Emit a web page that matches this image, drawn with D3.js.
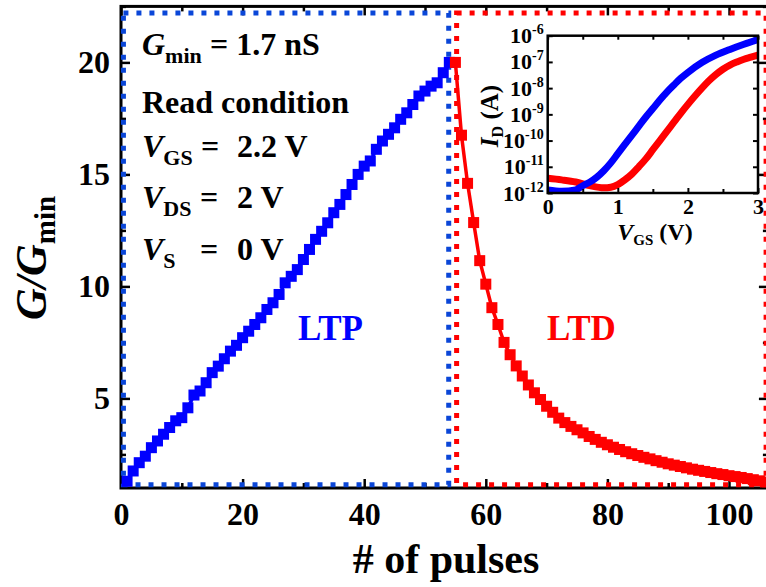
<!DOCTYPE html>
<html>
<head>
<meta charset="utf-8">
<script src="https://cdn.jsdelivr.net/npm/d3@7"></script>
<style>
  html, body { margin: 0; padding: 0; background: #fff; }
  svg { display: block; font-family: "Liberation Serif", "Times New Roman", serif; font-weight: bold; }
</style>
</head>
<body>
<svg id="chart" width="766" height="587"></svg>
<script>
// ---- Main panel data: normalized conductance G/Gmin versus pulse number ----
const ltpValues = [
  1.30, 1.76, 2.13, 2.42, 2.80, 3.10, 3.40, 3.70, 4.00, 4.14,
  4.58, 5.15, 5.33, 5.70, 6.15, 6.44, 6.77, 7.11, 7.37, 7.71,
  8.00, 8.30, 8.60, 8.97, 9.27, 9.64, 10.16, 10.45, 10.75, 11.20,
  11.65, 12.10, 12.46, 12.84, 13.29, 13.66, 14.10, 14.55, 15.00, 15.37,
  15.60, 16.12, 16.49, 16.79, 17.08, 17.46, 17.75, 18.12, 18.50, 18.72,
  18.94, 19.09, 19.54, 20.00
];
const ltdValues = [
  20.00, 16.75, 14.60, 12.85, 11.15, 10.10, 9.05, 8.30, 7.50, 6.95,
  6.45, 6.00, 5.60, 5.25, 4.95, 4.65, 4.38, 4.12, 3.92, 3.75,
  3.60, 3.46, 3.30, 3.17, 3.04, 2.93, 2.82, 2.72, 2.62, 2.53,
  2.45, 2.37, 2.30, 2.22, 2.15, 2.08, 2.02, 1.96, 1.90, 1.84,
  1.79, 1.74, 1.69, 1.64, 1.60, 1.55, 1.51, 1.47, 1.42, 1.37,
  1.32, 1.27
];
const ltpStartPulse = 1;
const ltdStartPulse = 55;

const xTicks = [0, 20, 40, 60, 80, 100];
const xMinorTicks = [10, 30, 50, 70, 90];
const yTicks = [5, 10, 15, 20];
const yMinorTicks = [2.5, 7.5, 12.5, 17.5, 22.5];

// ---- Inset data: transfer curves I_D versus V_GS ----
const vgsBlue = [0, 0.2, 0.4, 0.5, 0.6, 0.7, 0.8, 0.9, 1.0, 1.1, 1.2, 1.3, 1.4, 1.5, 1.6, 1.7, 1.8, 1.9, 2.0, 2.2, 2.4, 2.6, 2.8, 3.0];
const idBlue = [1.32e-12, 1.17e-12, 1.32e-12, 1.9e-12, 2.6e-12, 4.0e-12, 7.1e-12, 1.41e-11, 3.16e-11, 7.1e-11,
  1.58e-10, 3.55e-10, 7.9e-10, 1.66e-9, 3.55e-9, 7.1e-9, 1.32e-8, 2.4e-8, 3.98e-8, 9.5e-8,
  1.82e-7, 3.0e-7, 4.7e-7, 7.1e-7];
const vgsRed = [0, 0.2, 0.4, 0.6, 0.8, 0.9, 1.0, 1.1, 1.2, 1.3, 1.4, 1.5, 1.6, 1.7, 1.8, 1.9, 2.0, 2.1, 2.2, 2.3, 2.4, 2.5, 2.6, 2.7, 2.8, 2.9, 3.0];
const idRed = [3.63e-12, 3.16e-12, 2.63e-12, 1.91e-12, 1.58e-12, 1.66e-12, 2.09e-12, 3.16e-12, 5.25e-12, 1.0e-11,
  2.0e-11, 4.47e-11, 1.0e-10, 2.24e-10, 5.0e-10, 1.12e-9, 2.4e-9, 5.0e-9, 1.0e-8, 1.9e-8,
  3.3e-8, 5.25e-8, 7.6e-8, 1.0e-7, 1.26e-7, 1.51e-7, 1.82e-7];
const vgsTicks = [0, 1, 2, 3];
const vgsMinorTicks = [0.5, 1.5, 2.5];
const idTicks = [1e-12, 1e-11, 1e-10, 1e-9, 1e-8, 1e-7, 1e-6];

const BLUE = "#0000ff";
const RED = "#ff0000";
const BOX_BLUE = "#0a46d8";

const svg = d3.select("#chart");

// ---- scales ----
const x = d3.scaleLinear().domain([0, 106.4]).range([121, 121 + 6.08 * 106.4]);
const y = d3.scaleLinear().domain([1, 22.5]).range([488, 488 - 22.4 * 21.5]);
const [x0, x1] = x.range();
const [yb, yt] = y.range();

const ltp = ltpValues.map((v, i) => ({ p: ltpStartPulse + i, g: v }));
const ltd = ltdValues.map((v, i) => ({ p: ltdStartPulse + i, g: v }));

// ---- axes (ticks point inward, mirrored on all four sides) ----
function styleAxis(g, fontSize) {
  g.select(".domain").remove();
  g.selectAll(".tick line").attr("stroke", "#000").attr("stroke-width", 2.5);
  g.attr("font-family", null).attr("font-size", null);
  g.selectAll(".tick text").attr("font-size", fontSize).attr("fill", "#000");
}

svg.append("g").attr("transform", `translate(0,${yb})`)
  .call(d3.axisBottom(x).tickValues(xTicks).tickSize(-9).tickPadding(14))
  .call(g => styleAxis(g, 32));
svg.append("g").attr("transform", `translate(0,${yb})`)
  .call(d3.axisBottom(x).tickValues(xMinorTicks).tickSize(-5).tickFormat(""))
  .call(g => styleAxis(g, 0));
svg.append("g").attr("transform", `translate(0,${yt})`)
  .call(d3.axisTop(x).tickValues(xTicks).tickSize(-9).tickFormat(""))
  .call(g => styleAxis(g, 0));
svg.append("g").attr("transform", `translate(0,${yt})`)
  .call(d3.axisTop(x).tickValues(xMinorTicks).tickSize(-5).tickFormat(""))
  .call(g => styleAxis(g, 0));

svg.append("g").attr("transform", `translate(${x0},0)`)
  .call(d3.axisLeft(y).tickValues(yTicks).tickSize(-9).tickPadding(11))
  .call(g => styleAxis(g, 32));
svg.append("g").attr("transform", `translate(${x0},0)`)
  .call(d3.axisLeft(y).tickValues(yMinorTicks).tickSize(-5).tickFormat(""))
  .call(g => styleAxis(g, 0));
svg.append("g").attr("transform", `translate(${x1},0)`)
  .call(d3.axisRight(y).tickValues(yTicks).tickSize(-9).tickFormat(""))
  .call(g => styleAxis(g, 0));
svg.append("g").attr("transform", `translate(${x1},0)`)
  .call(d3.axisRight(y).tickValues(yMinorTicks).tickSize(-5).tickFormat(""))
  .call(g => styleAxis(g, 0));

// plot frame
svg.append("rect")
  .attr("x", x0).attr("y", yt).attr("width", x1 - x0).attr("height", yb - yt)
  .attr("fill", "none").attr("stroke", "#000").attr("stroke-width", 3);

// ---- dotted boxes marking the potentiation / depression regions ----
function regionBox(pA, pB, color) {
  svg.append("rect")
    .attr("x", x(pA)).attr("y", y(22.2))
    .attr("width", x(pB) - x(pA)).attr("height", y(1.15) - y(22.2))
    .attr("fill", "none").attr("stroke", color).attr("stroke-width", 5)
    .attr("stroke-dasharray", "5,8");
}
regionBox(0.4, 53.9, BOX_BLUE);
regionBox(55.2, 106.1, RED);

// ---- series: squares joined by a line ----
function series(data, color) {
  svg.append("path").datum(data)
    .attr("fill", "none").attr("stroke", color).attr("stroke-width", 3.5)
    .attr("d", d3.line().x(d => x(d.p)).y(d => y(d.g)));
  const s = 11;
  svg.append("g").selectAll("rect").data(data).join("rect")
    .attr("x", d => x(d.p) - s / 2).attr("y", d => y(d.g) - s / 2)
    .attr("width", s).attr("height", s).attr("fill", color);
}
series(ltp, BLUE);
series(ltd, RED);

// ---- axis titles ----
svg.append("text")
  .attr("x", 446).attr("y", 573).attr("text-anchor", "middle")
  .attr("font-size", 42).text("# of pulses");

const yTitle = svg.append("text")
  .attr("transform", "translate(46,258) rotate(-90)")
  .attr("text-anchor", "middle");
yTitle.append("tspan").attr("font-style", "italic").attr("font-size", 44).text("G/G");
yTitle.append("tspan").attr("font-size", 29).attr("dy", 9).text("min");

// ---- read-condition annotation ----
const note = svg.append("g").attr("fill", "#000");
function subLabel(letter, sub, baseline) {
  const t = note.append("text").attr("x", 142).attr("y", baseline);
  t.append("tspan").attr("font-style", "italic").attr("font-size", 32).text(letter);
  t.append("tspan").attr("font-size", 22).attr("dy", 8).text(sub);
}
subLabel("G", "min", 55);
note.append("text").attr("x", 210).attr("y", 55).attr("font-size", 32).text("= 1.7 nS");
note.append("text").attr("x", 142).attr("y", 113).attr("font-size", 32).text("Read condition");
subLabel("V", "GS", 157);
note.append("text").attr("x", 201).attr("y", 157).attr("font-size", 32).text("=");
note.append("text").attr("x", 237).attr("y", 157).attr("font-size", 32).text("2.2 V");
subLabel("V", "DS", 208);
note.append("text").attr("x", 200).attr("y", 208).attr("font-size", 32).text("=");
note.append("text").attr("x", 237).attr("y", 208).attr("font-size", 32).text("2 V");
subLabel("V", "S", 260);
note.append("text").attr("x", 200).attr("y", 260).attr("font-size", 32).text("=");
note.append("text").attr("x", 237).attr("y", 260).attr("font-size", 32).text("0 V");

svg.append("text").attr("x", 298).attr("y", 340).attr("font-size", 35).attr("fill", BLUE).text("LTP");
svg.append("text").attr("x", 547).attr("y", 340).attr("font-size", 35).attr("fill", RED).text("LTD");

// ---- inset: transfer characteristics ----
const xi = d3.scaleLinear().domain([0, 3]).range([547.7, 758]);
const yi = d3.scaleLog().domain([1e-12, 1e-6]).range([193, 35.7]);
const [ix0, ix1] = xi.range();
const [iyb, iyt] = yi.range();

const inset = svg.append("g");
inset.append("rect").attr("x", ix0).attr("y", iyt).attr("width", ix1 - ix0).attr("height", iyb - iyt)
  .attr("fill", "#fff");

svg.append("clipPath").attr("id", "insetClip").append("rect")
  .attr("x", ix0).attr("y", iyt).attr("width", ix1 - ix0).attr("height", iyb - iyt);

const curve = d3.line().x(d => xi(d[0])).y(d => yi(d[1])).curve(d3.curveMonotoneX);
inset.append("path").datum(d3.zip(vgsRed, idRed))
  .attr("clip-path", "url(#insetClip)")
  .attr("fill", "none").attr("stroke", RED).attr("stroke-width", 7).attr("d", curve);
inset.append("path").datum(d3.zip(vgsBlue, idBlue))
  .attr("clip-path", "url(#insetClip)")
  .attr("fill", "none").attr("stroke", BLUE).attr("stroke-width", 7).attr("d", curve);

inset.append("g").attr("transform", `translate(0,${iyb})`)
  .call(d3.axisBottom(xi).tickValues(vgsTicks).tickSize(-5).tickPadding(5).tickFormat(d3.format("d")))
  .call(g => styleAxis(g, 22));
inset.append("g").attr("transform", `translate(0,${iyt})`)
  .call(d3.axisTop(xi).tickValues(vgsTicks.concat(vgsMinorTicks)).tickSize(-4).tickFormat(""))
  .call(g => styleAxis(g, 0));
inset.append("g").attr("transform", `translate(0,${iyb})`)
  .call(d3.axisBottom(xi).tickValues(vgsMinorTicks).tickSize(-4).tickFormat(""))
  .call(g => styleAxis(g, 0));
inset.append("g").attr("transform", `translate(${ix0},0)`)
  .call(d3.axisLeft(yi).tickValues(idTicks).tickSize(-5).tickFormat(""))
  .call(g => styleAxis(g, 0));
inset.append("g").attr("transform", `translate(${ix1},0)`)
  .call(d3.axisRight(yi).tickValues(idTicks).tickSize(-5).tickFormat(""))
  .call(g => styleAxis(g, 0));
inset.selectAll(".tick line").attr("stroke-width", 2);

// decade labels 10^n
const decade = inset.append("g").selectAll("text").data(idTicks).join("text")
  .attr("x", ix0 - 4).attr("y", d => yi(d) + 7.5).attr("text-anchor", "end");
decade.append("tspan").attr("font-size", 22).text("10");
decade.append("tspan").attr("font-size", 14).attr("dy", -9)
  .text(d => String(Math.round(Math.log10(d))));

inset.append("rect").attr("x", ix0).attr("y", iyt).attr("width", ix1 - ix0).attr("height", iyb - iyt)
  .attr("fill", "none").attr("stroke", "#000").attr("stroke-width", 2.5);

const ixTitle = inset.append("text").attr("x", 655).attr("y", 240).attr("text-anchor", "middle");
ixTitle.append("tspan").attr("font-style", "italic").attr("font-size", 24).text("V");
ixTitle.append("tspan").attr("font-size", 15).attr("dy", 5).text("GS");
ixTitle.append("tspan").attr("font-size", 24).attr("dy", -5).text(" (V)");

const iyTitle = inset.append("text").attr("transform", "translate(498,116) rotate(-90)").attr("text-anchor", "middle");
iyTitle.append("tspan").attr("font-style", "italic").attr("font-size", 25).text("I");
iyTitle.append("tspan").attr("font-size", 16).attr("dy", 5).text("D");
iyTitle.append("tspan").attr("font-size", 25).attr("dy", -5).text(" (A)");
</script>
</body>
</html>
